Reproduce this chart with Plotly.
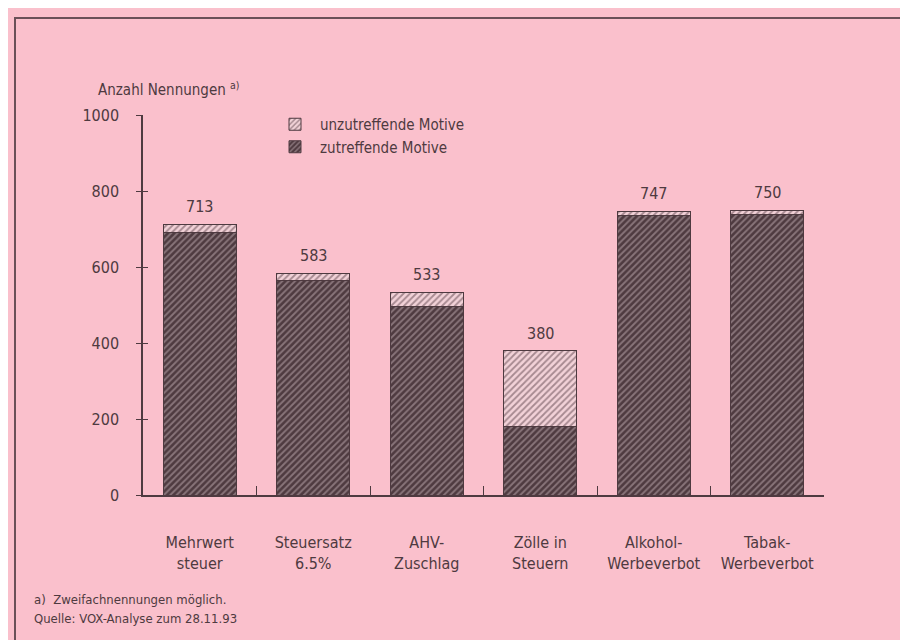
import plotly.graph_objects as go

categories = ["Mehrwert<br>steuer", "Steuersatz<br>6.5%", "AHV-<br>Zuschlag",
              "Zölle in<br>Steuern", "Alkohol-<br>Werbeverbot", "Tabak-<br>Werbeverbot"]
zutreffend = [690, 565, 497, 180, 735, 737]
unzutreffend = [23, 18, 36, 200, 12, 13]
totals = [713, 583, 533, 380, 747, 750]
y_ticks = [0, 200, 400, 600, 800, 1000]

BG = "#fac0cc"
INK = "#4e3a40"
FONT = "DejaVu Sans Condensed, Liberation Sans Narrow, Arial Narrow, sans-serif"

W, H = 908, 640
L, R, T, B = 135, 92, 107, 153
pw, ph = W - L - R, H - T - B

def px_x(x):
    return (x - L) / pw

def px_y(y):
    return (H - B - y) / ph

fig = go.Figure()
fig.add_trace(go.Bar(
    x=categories, y=zutreffend, name="zutreffende Motive",
    marker=dict(color="#4e3a40",
                pattern=dict(shape="/", bgcolor="#4e3a40", fgcolor="#c2adb3",
                             size=4.5, solidity=0.42, fillmode="overlay"),
                line=dict(color=INK, width=1)),
    hoverinfo="skip"))
fig.add_trace(go.Bar(
    x=categories, y=unzutreffend, name="unzutreffende Motive",
    marker=dict(color="#f2d2d8",
                pattern=dict(shape="/", bgcolor="#f2d2d8", fgcolor="#5a4048",
                             size=4.5, solidity=0.4, fillmode="overlay"),
                line=dict(color=INK, width=1)),
    hoverinfo="skip"))

annotations = [
    dict(text="Anzahl Nennungen <sup>a)</sup>", x=px_x(88), y=px_y(81), xref="paper", yref="paper",
         xanchor="left", yanchor="middle", showarrow=False, font=dict(size=15, color=INK, family=FONT)),
    dict(text="a)  Zweifachnennungen möglich.", x=px_x(24), y=px_y(591), xref="paper", yref="paper",
         xanchor="left", yanchor="middle", showarrow=False, font=dict(size=13, color=INK, family=FONT)),
    dict(text="Quelle: VOX-Analyse zum 28.11.93", x=px_x(24), y=px_y(610), xref="paper", yref="paper",
         xanchor="left", yanchor="middle", showarrow=False, font=dict(size=13, color=INK, family=FONT)),
]
for c, t in zip(categories, totals):
    annotations.append(dict(text=str(t), x=c, y=t, xref="x", yref="y", yanchor="bottom",
                            yshift=6, showarrow=False, font=dict(size=16, color=INK, family=FONT)))

fig.update_layout(
    width=W, height=H, barmode="stack", bargap=0.36,
    paper_bgcolor=BG, plot_bgcolor=BG,
    margin=dict(l=L, r=R, t=T, b=B, pad=0),
    font=dict(family=FONT, color=INK, size=15),
    legend=dict(x=px_x(262), y=px_y(100), xanchor="left", yanchor="top",
                bgcolor="rgba(0,0,0,0)", font=dict(size=15, color=INK, family=FONT),
                traceorder="reversed", tracegroupgap=0, itemwidth=40),
    xaxis=dict(showline=True, linecolor=INK, linewidth=1.5, ticks="inside",
               tickson="boundaries", ticklen=9, tickcolor=INK, tickwidth=1.2,
               showgrid=False, zeroline=False, ticklabelstandoff=32,
               tickfont=dict(size=16, color=INK, family=FONT)),
    yaxis=dict(range=[0, 1000], tickvals=y_ticks, showline=True, linecolor=INK,
               linewidth=1.5, ticks="outside", ticklen=5, tickcolor=INK, tickwidth=1.2,
               showgrid=False, zeroline=False, ticklabelstandoff=14,
               tickfont=dict(size=16, color=INK, family=FONT)),
    yaxis2=dict(range=[0, 1000], tickvals=y_ticks, overlaying="y", side="left",
                showline=False, ticks="inside", ticklen=5, tickcolor=INK, tickwidth=1.2,
                showticklabels=False, showgrid=False, zeroline=False),
    shapes=[dict(type="path", xref="paper", yref="paper",
                 path=f"M {px_x(7)} {px_y(640)} L {px_x(7)} {px_y(10)} L {px_x(908)} {px_y(10)}",
                 line=dict(color="#6a5058", width=2))],
    annotations=annotations,
)
# invisible trace to activate the mirrored tick axis
fig.add_trace(go.Scatter(x=[categories[0]], y=[0], yaxis="y2", mode="markers",
                         marker=dict(opacity=0), showlegend=False, hoverinfo="skip"))

fig.write_html("out.html")
